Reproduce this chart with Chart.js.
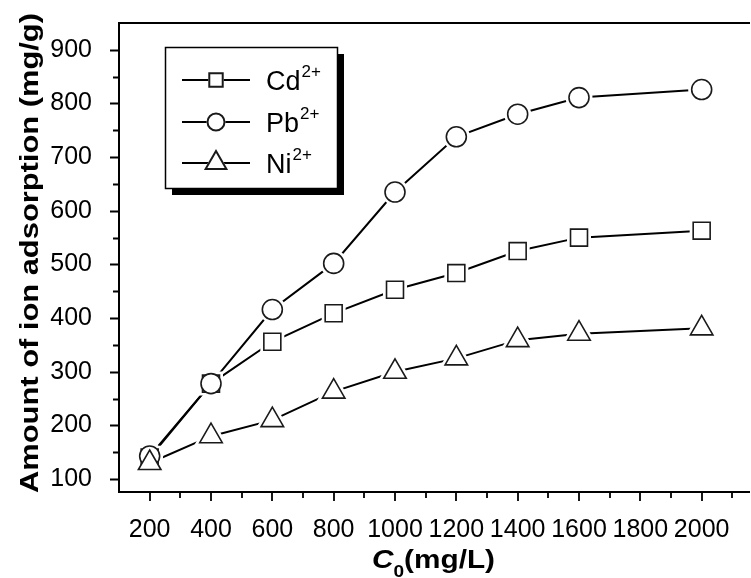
<!DOCTYPE html>
<html>
<head>
<meta charset="utf-8">
<script src="https://cdn.jsdelivr.net/npm/chart.js@4.4.0/dist/chart.umd.min.js"></script>
<style>
  html, body { margin: 0; padding: 0; background: #fff; overflow: hidden; }
  #wrap { width: 760px; height: 578px; }
</style>
</head>
<body>
<div id="wrap"><canvas id="myChart"></canvas></div>
<script>
// data
var concentrations = [200, 400, 600, 800, 1000, 1200, 1400, 1600, 2000];
var cdValues = [140, 278, 356, 409, 453, 484, 525, 550, 563];
var pbValues = [143, 278, 416, 502, 635, 738, 780, 811, 826];
var niValues = [130, 180, 210, 263, 300, 325, 359, 371, 381];
var xTickLabels = [200, 400, 600, 800, 1000, 1200, 1400, 1600, 1800, 2000];
var yTickLabels = [100, 200, 300, 400, 500, 600, 700, 800, 900];
var ionNames = ['Cd', 'Pb', 'Ni'];
var ionCharge = '2+';
var yTitle = 'Amount of ion adsorption (mg/g)';
var xTitleParts = ['C', '0', '(mg/L)'];

var FONT = "'Liberation Sans', Arial, sans-serif";
var styles = ['rect', 'circle', 'triangle'];
var radii = [12, 10, 13];
var legendRadii = [9.5, 8.5, 12];
var allValues = [cdValues, pbValues, niValues];

function toPoints(vals) {
    return concentrations.map(function(c, i) { return { x: c, y: vals[i] }; });
}

var datasets = [];
allValues.forEach(function(vals, i) {
    // connecting line
    datasets.push({
        data: toPoints(vals), borderColor: '#000', borderWidth: 2,
        pointRadius: 0, tension: 0, order: 30
    });
    // white halo so the line stops short of the marker
    datasets.push({
        data: toPoints(vals), showLine: false, pointStyle: styles[i],
        pointRadius: radii[i], pointBorderWidth: 7,
        pointBorderColor: '#fff', pointBackgroundColor: '#fff', order: 20
    });
    // the open marker
    datasets.push({
        data: toPoints(vals), showLine: false, pointStyle: styles[i],
        pointRadius: radii[i], pointBorderWidth: 1.6,
        pointBorderColor: '#1a1a1a', pointBackgroundColor: '#fff', order: 3 - i
    });
});

var framePlugin = {
    id: 'frame',
    afterDatasetsDraw: function(chart) {
        var ctx = chart.ctx, a = chart.chartArea;
        var xs = chart.scales.x, ys = chart.scales.y;
        ctx.save();
        ctx.strokeStyle = '#000';
        ctx.lineWidth = 2;
        ctx.beginPath();
        ctx.moveTo(a.left, a.top); ctx.lineTo(a.right + 10, a.top);
        ctx.moveTo(a.left, a.top - 1); ctx.lineTo(a.left, a.bottom + 1);
        ctx.moveTo(a.left - 1, a.bottom); ctx.lineTo(a.right + 10, a.bottom);
        ctx.stroke();
        ctx.lineWidth = 1.8;
        ctx.beginPath();
        // y ticks, major and minor, pointing out
        yTickLabels.forEach(function(v) {
            var p = Math.round(ys.getPixelForValue(v)) + 0.5;
            ctx.moveTo(a.left, p); ctx.lineTo(a.left - 9, p);
            var q = Math.round(ys.getPixelForValue(v + 50)) + 0.5;
            if (q > a.top + 2) { ctx.moveTo(a.left, q); ctx.lineTo(a.left - 6, q); }
        });
        xTickLabels.forEach(function(v) {
            var p = Math.round(xs.getPixelForValue(v));
            ctx.moveTo(p, a.bottom); ctx.lineTo(p, a.bottom + 9);
            var q = Math.round(xs.getPixelForValue(v + 100));
            ctx.moveTo(q, a.bottom); ctx.lineTo(q, a.bottom + 6);
        });
        ctx.stroke();
        ctx.restore();
    },
    afterDraw: function(chart) {
        var ctx = chart.ctx;
        ctx.save();
        ctx.fillStyle = '#000';

        // y title, rotated and stretched along its length
        ctx.font = 'bold 25px ' + FONT;
        var w = ctx.measureText(yTitle).width;
        ctx.translate(38, 253);
        ctx.rotate(-Math.PI / 2);
        ctx.scale(480 / w, 1);
        ctx.textAlign = 'center';
        ctx.textBaseline = 'alphabetic';
        ctx.fillText(yTitle, 0, 0);
        ctx.restore();

        // x title: italic C, subscript 0, (mg/L)
        ctx.save();
        ctx.fillStyle = '#000';
        ctx.textBaseline = 'alphabetic';
        var f1 = 'italic bold 25px ' + FONT, f2 = 'bold 16px ' + FONT, f3 = 'bold 25px ' + FONT;
        ctx.font = f1; var w1 = ctx.measureText(xTitleParts[0]).width;
        ctx.font = f2; var w2 = ctx.measureText(xTitleParts[1]).width;
        ctx.font = f3; var w3 = ctx.measureText(xTitleParts[2]).width;
        var sx = 123 / (w1 + w2 + w3);
        ctx.translate(372, 568);
        ctx.scale(sx, 1);
        ctx.font = f1; ctx.fillText(xTitleParts[0], 0, 0);
        ctx.font = f2; ctx.fillText(xTitleParts[1], w1, 9);
        ctx.font = f3; ctx.fillText(xTitleParts[2], w1 + w2, 0);
        ctx.restore();

        // legend box with drop shadow
        ctx.save();
        var bx = 165, by = 47, bw = 172, bh = 141;
        ctx.fillStyle = '#000';
        ctx.fillRect(bx + 7, by + 7, bw, bh);
        ctx.fillStyle = '#fff';
        ctx.fillRect(bx, by, bw, bh);
        ctx.strokeStyle = '#000';
        ctx.lineWidth = 1.5;
        ctx.strokeRect(bx + 0.5, by + 0.5, bw, bh);
        var rows = [80, 122, 163];
        ionNames.forEach(function(name, i) {
            var y = rows[i];
            ctx.strokeStyle = '#000';
            ctx.lineWidth = 2;
            ctx.beginPath();
            ctx.moveTo(182, y); ctx.lineTo(250, y);
            ctx.stroke();
            ctx.fillStyle = '#fff';
            ctx.strokeStyle = '#fff';
            Chart.helpers.drawPoint(ctx, { pointStyle: styles[i], radius: legendRadii[i], borderWidth: 6, rotation: 0 }, 216, y);
            ctx.strokeStyle = '#1a1a1a';
            Chart.helpers.drawPoint(ctx, { pointStyle: styles[i], radius: legendRadii[i], borderWidth: 1.6, rotation: 0 }, 216, y);
            ctx.fillStyle = '#000';
            ctx.textBaseline = 'alphabetic';
            ctx.textAlign = 'left';
            ctx.font = '27px ' + FONT;
            ctx.fillText(name, 266, y + 9.5);
            var nw = ctx.measureText(name).width;
            ctx.font = '17px ' + FONT;
            ctx.fillText(ionCharge, 266 + nw + 1, y - 3);
        });
        ctx.restore();
    }
};

var ctx = document.getElementById('myChart');
new Chart(ctx, {
    type: 'line',
    data: { datasets: datasets },
    options: {
        responsive: true,
        maintainAspectRatio: false,
        animation: false,
        devicePixelRatio: 1,
        layout: { padding: { top: 23, right: 5, left: 0, bottom: 0 } },
        plugins: { legend: { display: false }, tooltip: { enabled: false } },
        scales: {
            x: {
                type: 'linear', min: 100, max: 2125,
                grid: { display: false }, border: { display: false },
                ticks: {
                    font: { family: FONT, size: 25 }, color: '#000', padding: 15, maxRotation: 0, autoSkip: false,
                    callback: function(v) { return String(v); }
                },
                afterBuildTicks: function(s) { s.ticks = xTickLabels.map(function(v) { return { value: v }; }); },
                afterFit: function(s) { s.height = 86; s.paddingLeft = 0; s.paddingRight = 0; }
            },
            y: {
                type: 'linear', min: 76, max: 950,
                grid: { display: false }, border: { display: false },
                ticks: {
                    font: { family: FONT, size: 25 }, color: '#000', padding: 19,
                    callback: function(v) { return String(v); }
                },
                afterBuildTicks: function(s) { s.ticks = yTickLabels.map(function(v) { return { value: v }; }); },
                afterFit: function(s) { s.width = 119; s.paddingTop = 0; s.paddingBottom = 0; }
            }
        }
    },
    plugins: [framePlugin]
});
</script>
</body>
</html>
